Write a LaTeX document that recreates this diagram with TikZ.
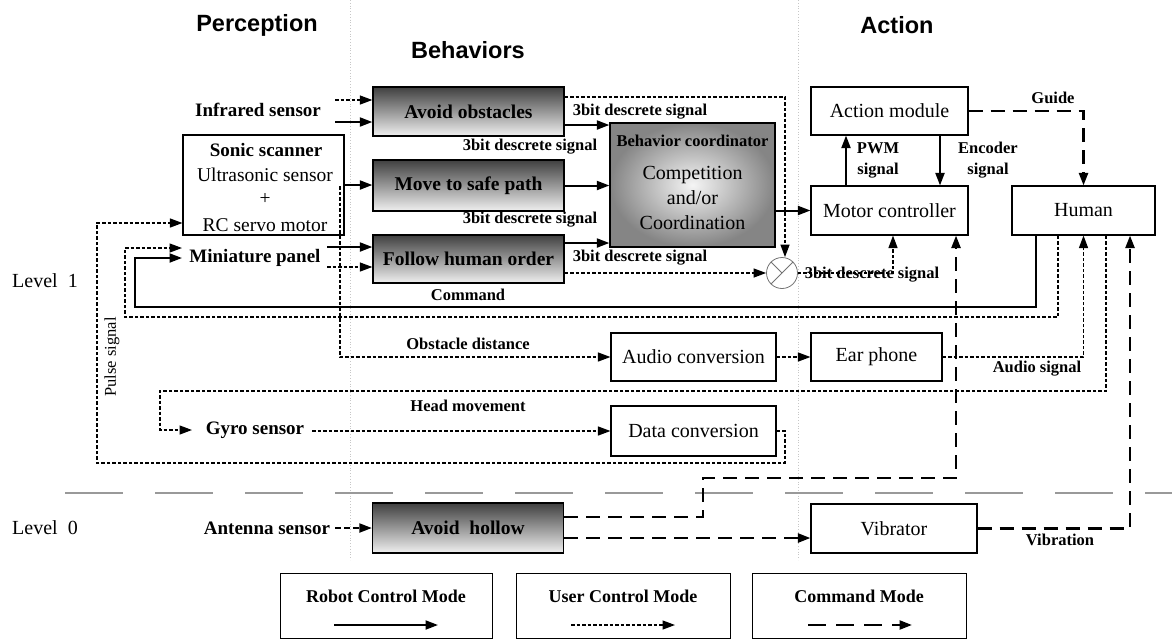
\documentclass[tikz,border=0pt]{standalone}
\usepackage{fontspec}
\setmainfont{Liberation Serif}
\newfontfamily\headfont{Liberation Sans}
\usetikzlibrary{arrows.meta,calc}
\begin{document}
\begin{tikzpicture}[x=1pt,y=-1pt,
  tip/.style={-{Triangle[length=12.5pt,width=9pt]}},
  rob/.style={line width=2pt,tip},
  usr/.style={line width=1.3pt,dash pattern=on 3.5pt off 2pt,tip},
  cmd/.style={line width=2.4pt,dash pattern=on 14pt off 8pt,tip},
  plainbox/.style={draw,line width=1.1pt,inner sep=0pt,align=center,font=\fontsize{20}{22}\selectfont},
  behbox/.style={draw,line width=1.3pt,inner sep=0pt,minimum width=191,minimum height=49,
     top color=black!75,bottom color=black!6,font=\bfseries\fontsize{19.5}{22}\selectfont},
  lbl/.style={inner sep=0pt,font=\bfseries\fontsize{19}{21}\selectfont},
  slbl/.style={inner sep=0pt,font=\bfseries\fontsize{16.5}{18}\selectfont},
  head/.style={inner sep=0pt,font=\headfont\bfseries\fontsize{23.5}{26}\selectfont},
  lev/.style={inner sep=0pt,font=\fontsize{20}{22}\selectfont},
  faint/.style={black!22,line width=0.8pt,dotted}]
\useasboundingbox (0,0) rectangle (1172,641);

% faint column guides
\draw[faint] (350,0) -- (350,560);
\draw[faint] (798,0) -- (798,560);

% headings
\node[head] (hP) at (257,25) {Perception};
\node[head] (hB) at (468,50) {Behaviors};
\node[head] (hA) at (897,25) {Action};

% level labels and separator
\node[lev] (L1) at (45,281) {Level\ \ 1};
\node[lev] (L0) at (45,528) {Level\ \ 0};
\draw[black!40,line width=2pt,dash pattern=on 58pt off 32pt] (65,493) -- (1172,493);

% behaviours
\node[behbox] (AO) at (468.5,111.5) {Avoid obstacles};
\node[behbox,minimum height=51] (MS) at (468.5,185.5) {Move to safe path};
\node[behbox,minimum height=48] (FH) at (468.5,259) {Follow human order};
\node[behbox,minimum height=50] (AH) at (468,528) {Avoid\ \ hollow};

% coordinator
\node[draw,line width=1.3pt,minimum width=165,minimum height=124,inner sep=0pt,
      inner color=black!4,outer color=black!48] (BC) at (692.5,185) {};
\node[slbl] (BCt) at (692.5,141) {Behavior coordinator};
\node[inner sep=0pt,align=center,font=\fontsize{20}{25}\selectfont] (BCc) at (692.5,198) {Competition\\and/or\\Coordination};

% sonic scanner
\node[draw,line width=1.1pt,minimum width=161,minimum height=100,inner sep=0pt] (SS) at (263.5,185) {};
\node[lbl] (SSa) at (266,150) {Sonic scanner};
\node[inner sep=0pt,font=\fontsize{19.5}{22}\selectfont] (SSb) at (265,175) {Ultrasonic sensor};
\node[inner sep=0pt,font=\fontsize{19.5}{22}\selectfont] (SSc) at (265,199) {+};
\node[inner sep=0pt,font=\fontsize{19.5}{22}\selectfont] (SSd) at (265,225) {RC servo motor};

% perception labels
\node[lbl] (IR) at (258,110) {Infrared sensor};
\node[lbl] (MP) at (255,258) {Miniature panel};
\node[lbl] (GY) at (255,430) {Gyro sensor};
\node[lbl] (AN) at (267,528) {Antenna sensor};

% action boxes
\node[plainbox,minimum width=157,minimum height=48] (AM) at (889.5,111) {Action module};
\node[plainbox,minimum width=157,minimum height=49] (MC) at (889.5,210.5) {Motor controller};
\node[plainbox,minimum width=143,minimum height=49] (HU) at (1083.5,210.5) {Human};
\node[plainbox,minimum width=165,minimum height=48] (AC) at (693.5,357) {Audio conversion};
\node[plainbox,minimum width=131,minimum height=48] (EP) at (876.5,357) {Ear phone};
\node[plainbox,minimum width=165,minimum height=50] (DC) at (693.5,431) {Data conversion};
\node[plainbox,minimum width=166,minimum height=49] (VB) at (894,528.5) {Vibrator};

% junction
\node[circle,draw=black!55,line width=0.8pt,minimum size=31,inner sep=0pt] (J) at (782,273) {};
\draw[black!55,line width=0.8pt] (J.north east) -- (J.south west);
\draw[black!55,line width=0.8pt] (J.north west) -- (J.center);

% small labels
\node[slbl] (s1) at (640,112) {3bit descrete signal};
\node[slbl] (s2) at (530,147) {3bit descrete signal};
\node[slbl] (s3) at (530,220) {3bit descrete signal};
\node[slbl] (s4) at (640,258) {3bit descrete signal};
\node[slbl] (s5) at (872,275) {3bit descrete signal};
\node[slbl] (cmdl) at (468,295) {Command};
\node[slbl] (obs) at (468,344) {Obstacle distance};
\node[slbl] (head) at (468,406) {Head movement};
\node[slbl,align=center,font=\bfseries\fontsize{16.5}{21}\selectfont] (pwm) at (878,160) {PWM\\signal};
\node[slbl,align=center,font=\bfseries\fontsize{16.5}{21}\selectfont] (enc) at (988,160) {Encoder\\signal};
\node[slbl] (guide) at (1053,98) {Guide};
\node[slbl] (aud) at (1037,369) {Audio signal};
\node[slbl] (vib) at (1060,540) {Vibration};
\node[inner sep=0pt,rotate=90,font=\fontsize{16.5}{18}\selectfont] (pulse) at (112,357) {Pulse signal};

% free ends
\coordinate (ir1) at (335,100);
\coordinate (ir2) at (335,122);
\coordinate (mp1) at (327,247);
\coordinate (mp2) at (327,267);
\coordinate (lpA) at (135,307);
\coordinate (lpB) at (125,317);
\coordinate (mpin1) at (182,258);
\coordinate (mpin2) at (182,248);
\coordinate (gyA) at (160,391);
\coordinate (gyin) at (192,430);
\coordinate (gy1) at (312,431);
\coordinate (ant1) at (335,528);
\coordinate (ssd) at (340,186);
\coordinate (plA) at (785,463);
\coordinate (plB) at (97,223);
\coordinate (ahA) at (703,478);

% perception -> behaviours
\draw[usr] (ir1) -- (ir1 -| AO.west);
\draw[rob] (ir2) -- (ir2 -| AO.west);
\draw[rob] (SS.east) -- (SS.east -| MS.west);
\draw[rob] (mp1) -- (mp1 -| FH.west);
\draw[usr] (mp2) -- (mp2 -| FH.west);
\draw[cmd,line width=2pt,dash pattern=on 6pt off 3pt] (ant1) -- (AH.west);

% behaviours -> coordinator
\draw[rob] ([yshift=-13.5pt]AO.east) -- ([yshift=-13.5pt]AO.east -| BC.west);
\draw[rob] (MS.east) -- (MS.east -| BC.west);
\draw[rob] ([yshift=16pt]FH.east) -- ([yshift=16pt]FH.east -| BC.west);
\draw[usr] ([yshift=14.5pt]AO.east) -| ([xshift=3pt]J.north);
\draw[usr] ([yshift=-14pt]FH.east) -- (J.west);
\draw[usr] (J.east) -| ([xshift=3.5pt]MC.south);
\draw[rob] (BC.east |- MC.west) -- (MC.west);

% action
\draw[rob] ([xshift=-43.5pt]MC.north) -- ([xshift=-43.5pt]AM.south);
\draw[rob] ([xshift=50.5pt]AM.south) -- ([xshift=50.5pt]MC.north);
\draw[cmd] (AM.east) -| (HU.north);

% human loops
\draw[rob] ([xshift=-47.5pt]HU.south) |- (lpA) |- (mpin1);
\draw[usr] ([xshift=-25.5pt]HU.south) |- (lpB) |- (mpin2);
\draw[usr] ([xshift=22.5pt]HU.south) |- (gyA) |- (gyin);
\draw[usr] (EP.east) -| (HU.south);
\draw[cmd] (VB.east) -| ([xshift=46.5pt]HU.south);

% user control chains
\draw[usr] (ssd) |- (AC.west);
\draw[usr] (AC.east) -- (EP.west);
\draw[usr] (gy1) -- (DC.west);
\draw[usr] (DC.east) -| (plA) -| (plB) -- (plB -| SS.west);

% avoid hollow outputs
\draw[cmd] ([yshift=11pt]AH.east) -| (ahA) -| ([xshift=66.5pt]MC.south);
\draw[cmd] ([yshift=-10pt]AH.east) -- ([yshift=-10pt]AH.east -| VB.west);

% legend
\node[draw,line width=1pt,minimum width=212,minimum height=65,inner sep=0pt] (LR) at (386,605.5) {};
\node[draw,line width=1pt,minimum width=214,minimum height=65,inner sep=0pt] (LU) at (623,605.5) {};
\node[draw,line width=1pt,minimum width=214,minimum height=65,inner sep=0pt] (LC) at (859,605.5) {};
\node[inner sep=0pt,font=\bfseries\fontsize{18}{20}\selectfont] (LRt) at (386,596) {Robot Control Mode};
\node[inner sep=0pt,font=\bfseries\fontsize{18}{20}\selectfont] (LUt) at (623,596) {User Control Mode};
\node[inner sep=0pt,font=\bfseries\fontsize{18}{20}\selectfont] (LCt) at (859,596) {Command Mode};
\coordinate (lr1) at (334,625); \coordinate (lr2) at (438,625);
\coordinate (lu1) at (571,625); \coordinate (lu2) at (675,625);
\coordinate (lc1) at (808,625); \coordinate (lc2) at (912,625);
\draw[rob] (lr1) -- (lr2);
\draw[usr] (lu1) -- (lu2);
\draw[cmd,dash pattern=on 18pt off 10pt] (lc1) -- (lc2);
\end{tikzpicture}
\end{document}
